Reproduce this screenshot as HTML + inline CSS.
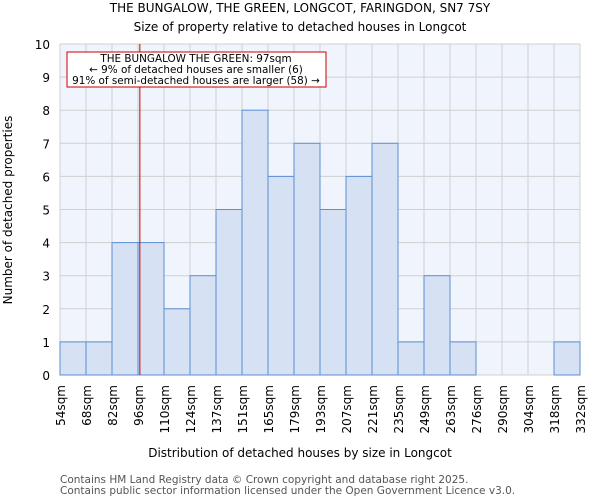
<!DOCTYPE html>
<html><head><meta charset="utf-8"><style>
body{margin:0;background:#fff;font-family:"DejaVu Sans","Liberation Sans",sans-serif}
</style></head><body>
<svg id="c" width="600" height="500" xmlns="http://www.w3.org/2000/svg" font-family="DejaVu Sans, Liberation Sans, sans-serif">
<text x="300" y="12" text-anchor="middle" font-size="12" fill="#000">THE BUNGALOW, THE GREEN, LONGCOT, FARINGDON, SN7 7SY</text>
<text x="300" y="31" text-anchor="middle" font-size="12" fill="#000">Size of property relative to detached houses in Longcot</text>
<g id="plot"></g>
<text x="300" y="457" text-anchor="middle" font-size="12">Distribution of detached houses by size in Longcot</text>
<text transform="translate(12,210) rotate(-90)" text-anchor="middle" font-size="12">Number of detached properties</text>
<text x="60" y="483" font-size="10.5" fill="#555">Contains HM Land Registry data © Crown copyright and database right 2025.</text>
<text x="60" y="494" font-size="10.5" fill="#555">Contains public sector information licensed under the Open Government Licence v3.0.</text>
</svg>
<script>
const binLabels=["54sqm","68sqm","82sqm","96sqm","110sqm","124sqm","137sqm","151sqm","165sqm","179sqm","193sqm","207sqm","221sqm","235sqm","249sqm","263sqm","276sqm","290sqm","304sqm","318sqm","332sqm"];
const binStarts=[54,68,82,96,110,124,137,151,165,179,193,207,221,235,249,263,276,290,304,318,332];
const counts=[1,1,4,4,2,3,5,8,6,7,5,6,7,1,3,1,0,0,0,1];
const yTicks=[0,1,2,3,4,5,6,7,8,9,10];
const propertySize=97;
const annotationLines=["THE BUNGALOW THE GREEN: 97sqm","← 9% of detached houses are smaller (6)","91% of semi-detached houses are larger (58) →"];
const X0=60,X1=580,Y0=375,Y1=44,ns="http://www.w3.org/2000/svg";
const nb=counts.length,bw=(X1-X0)/nb;
const xIdx=i=>X0+i*bw;
const yS=v=>Y0-(v-0)/(10-0)*(Y0-Y1);
function xVal(v){for(let i=0;i<nb;i++){if(v>=binStarts[i]&&v<binStarts[i+1])return xIdx(i)+(v-binStarts[i])/(binStarts[i+1]-binStarts[i])*bw;}return X1;}
const g=document.getElementById('plot');
function mk(t,a){const e=document.createElementNS(ns,t);for(const k in a)e.setAttribute(k,a[k]);g.appendChild(e);return e;}
let bg=mk('rect',{x:X0,y:Y1,width:X1-X0,height:Y0-Y1,fill:'#f0f4fc'});


yTicks.forEach(t=>{const l=mk('line',{x1:X0,x2:X1,y1:yS(t),y2:yS(t),stroke:'#d0d0d0','stroke-width':1});


const tx=mk('text',{x:X0-10,y:yS(t)+5,'text-anchor':'end','font-size':12});tx.textContent=t;

});
for(let i=0;i<=nb;i++){const l=mk('line',{x1:xIdx(i),x2:xIdx(i),y1:Y1,y2:Y0,stroke:'#d0d0d0','stroke-width':1});

}
counts.forEach((c,i)=>{if(c<=0)return;const r=mk('rect',{x:xIdx(i),y:yS(c),width:bw,height:Y0-yS(c),fill:'#d6e1f3',stroke:'#5b8fd6','stroke-width':1});

});
binLabels.forEach((s,i)=>{const t=mk('text',{transform:`translate(${xIdx(i)+5},${Y0+10}) rotate(-90)`,'text-anchor':'end','font-size':12});t.textContent=s;

});
const px=xVal(propertySize);
const ml=mk('line',{x1:px,x2:px,y1:Y1,y2:Y0,stroke:'#cc0000','stroke-width':1});


const box=mk('rect',{x:67,y:52,width:259,height:35,fill:'#fff',stroke:'#cc0000','stroke-width':1});


annotationLines.forEach((s,i)=>{const t=mk('text',{x:196,y:62+i*11,'text-anchor':'middle','font-size':10.4});t.textContent=s;

});
</script>
</body></html>
